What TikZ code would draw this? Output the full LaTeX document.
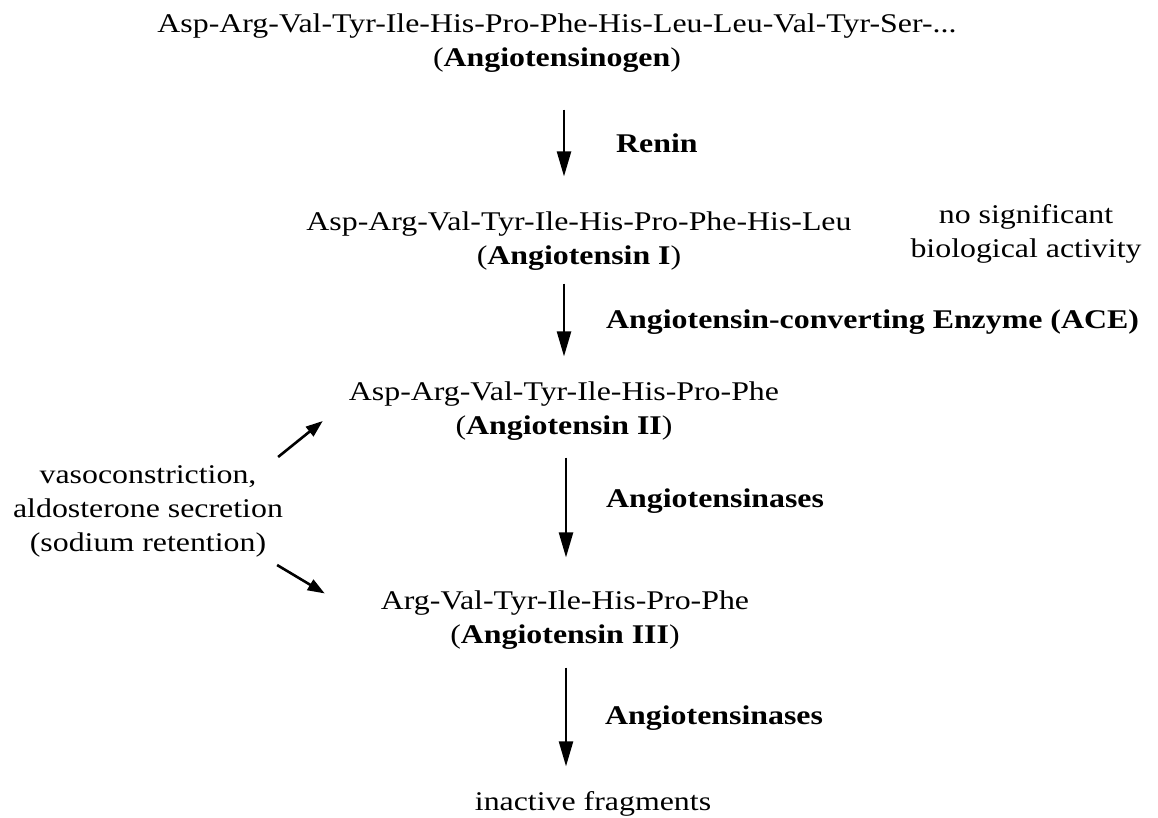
\documentclass[tikz,border=0pt]{standalone}
\usepackage{fontspec}
\setmainfont{Liberation Serif}[FakeStretch=1.18]
\usetikzlibrary{arrows.meta}

\begin{document}
\begin{tikzpicture}[
    x=1pt, y=1pt,
    every node/.style={
        inner sep=0pt,
        align=center,
        font=\fontsize{27}{34}\selectfont
    },
    lbl/.style={anchor=base west, font=\fontsize{27}{34}\selectfont\bfseries},
    arr/.style={-{Triangle[length=25pt,width=14pt]}, line width=2.3pt},
    darr/.style={-{Triangle[length=17pt,width=12pt]}, line width=2.6pt}
]
\useasboundingbox (0,0) rectangle (1158,-818);

% --- peptides ---
\node (AGEN) at (557,-43) {Asp-Arg-Val-Tyr-Ile-His-Pro-Phe-His-Leu-Leu-Val-Tyr-Ser-...\\(\textbf{Angiotensinogen})};
\node (ANG1) at (579,-241) {Asp-Arg-Val-Tyr-Ile-His-Pro-Phe-His-Leu\\(\textbf{Angiotensin I})};
\node (ANG2) at (564,-411) {Asp-Arg-Val-Tyr-Ile-His-Pro-Phe\\(\textbf{Angiotensin II})};
\node (ANG3) at (565,-620) {Arg-Val-Tyr-Ile-His-Pro-Phe\\(\textbf{Angiotensin III})};
\node (FRAG) at (593,-804) {inactive fragments};

% side notes
\node (NOACT) at (1026,-234) {no significant\\biological activity};
\node (EFF) at (148,-511) {vasoconstriction,\\aldosterone secretion\\(sodium retention)};

% enzymes
\node[lbl] (REN) at (616,-153) {Renin};
\node[lbl] (ACE) at (606,-328) {Angiotensin-converting Enzyme (ACE)};
\node[lbl] (ASE1) at (606,-507) {Angiotensinases};
\node[lbl] (ASE2) at (605,-724) {Angiotensinases};

% --- arrows ---
\coordinate (AX) at (564,0);
\coordinate (BX) at (566,0);
\draw[arr, shorten <=37pt, shorten >=35pt] (AGEN.south -| AX) -- (ANG1.north -| AX);
\draw[arr, shorten <=13pt, shorten >=25pt] (ANG1.south -| AX) -- (ANG2.north -| AX);
\draw[arr, shorten <=17pt, shorten >=33pt] (ANG2.south -| BX) -- (ANG3.north -| BX);
\draw[arr, shorten <=18pt, shorten >=25pt] (ANG3.south -| BX) -- (FRAG.north -| BX);

\draw[darr] ([xshift=-5pt,yshift=8pt]EFF.north east) -- ([xshift=-26pt,yshift=-10pt]ANG2.west);
\draw[darr] ([xshift=-6pt,yshift=-8pt]EFF.south east) -- ([xshift=-56pt,yshift=-3pt]ANG3.north west);

\end{tikzpicture}
\end{document}
